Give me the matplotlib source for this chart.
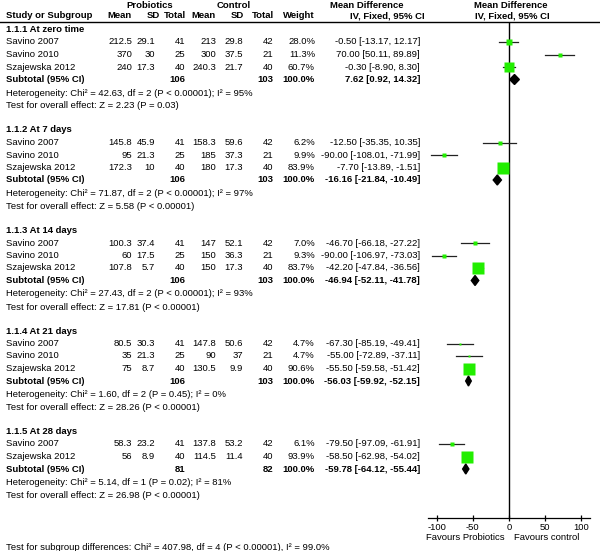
import numpy as np
import matplotlib
matplotlib.use("Agg")
import matplotlib.pyplot as plt
from matplotlib.patches import Polygon

plt.rcParams['font.family'] = ['Liberation Sans', 'DejaVu Sans']

groups = ["1.1.1 At zero time", "1.1.2 At 7 days", "1.1.3 At 14 days",
          "1.1.4 At 21 days", "1.1.5 At 28 days"]
studies = [["Savino 2007", "Savino 2010", "Szajewska 2012"],
           ["Savino 2007", "Savino 2010", "Szajewska 2012"],
           ["Savino 2007", "Savino 2010", "Szajewska 2012"],
           ["Savino 2007", "Savino 2010", "Szajewska 2012"],
           ["Savino 2007", "Szajewska 2012"]]
pro_mean = [[212.5, 370, 240], [145.8, 95, 172.3], [100.3, 60, 107.8], [80.5, 35, 75], [58.3, 56]]
pro_sd = [[29.1, 30, 17.3], [45.9, 21.3, 10], [37.4, 17.5, 5.7], [30.3, 21.3, 8.7], [23.2, 8.9]]
pro_n = [[41, 25, 40], [41, 25, 40], [41, 25, 40], [41, 25, 40], [41, 40]]
ctl_mean = [[213, 300, 240.3], [158.3, 185, 180], [147, 150, 150], [147.8, 90, 130.5], [137.8, 114.5]]
ctl_sd = [[29.8, 37.5, 21.7], [59.6, 37.3, 17.3], [52.1, 36.3, 17.3], [50.6, 37, 9.9], [53.2, 11.4]]
ctl_n = [[42, 21, 40], [42, 21, 40], [42, 21, 40], [42, 21, 40], [42, 40]]
weight = [[28.0, 11.3, 60.7], [6.2, 9.9, 83.9], [7.0, 9.3, 83.7], [4.7, 4.7, 90.6], [6.1, 93.9]]
md = [[-0.50, 70.00, -0.30], [-12.50, -90.00, -7.70], [-46.70, -90.00, -42.20],
      [-67.30, -55.00, -55.50], [-79.50, -58.50]]
ci_lo = [[-13.17, 50.11, -8.90], [-35.35, -108.01, -13.89], [-66.18, -106.97, -47.84],
         [-85.19, -72.89, -59.58], [-97.09, -62.98]]
ci_hi = [[12.17, 89.89, 8.30], [10.35, -71.99, -1.51], [-27.22, -73.03, -36.56],
         [-49.41, -37.11, -51.42], [-61.91, -54.02]]

sub_pro_n = [106, 106, 106, 106, 81]
sub_ctl_n = [103, 103, 103, 103, 82]
sub_md = [7.62, -16.16, -46.94, -56.03, -59.78]
sub_lo = [0.92, -21.84, -52.11, -59.92, -64.12]
sub_hi = [14.32, -10.49, -41.78, -52.15, -55.44]

het_chi = ["42.63", "71.87", "27.43", "1.60", "5.14"]
het_df = [2, 2, 2, 2, 1]
het_p = ["< 0.00001", "< 0.00001", "< 0.00001", "= 0.45", "= 0.02"]
het_i2 = [95, 97, 93, 0, 81]
z_val = ["2.23", "5.58", "17.81", "28.26", "26.98"]
z_p = ["= 0.03", "< 0.00001", "< 0.00001", "< 0.00001", "< 0.00001"]

x_ticks = [-100, -50, 0, 50, 100]
footer = "Test for subgroup differences: Chi\u00b2 = 407.98, df = 4 (P < 0.00001), I\u00b2 = 99.0%"

W, H = 600, 551
fs = 6.8
fig = plt.figure(figsize=(W / 100, H / 100), dpi=100)

tx = fig.add_axes([0, 0, 1, 1])
tx.set_xlim(0, W)
tx.set_ylim(H, 0)
tx.axis('off')

def put(x, y, s, ha='left', bold=False):
    tx.text(x, y, s, ha=ha, va='center', fontsize=fs,
            fontweight='bold' if bold else 'normal')

# column right edges (pixels)
c_pm, c_psd, c_pn = 132, 155, 185
c_cm, c_csd, c_cn = 216, 243, 273
c_w, c_ci = 315, 420

put(150, 5, "Probiotics", 'center', True)
put(234, 5, "Control", 'center', True)
put(367, 5, "Mean Difference", 'center', True)
put(511, 5, "Mean Difference", 'center', True)
put(6, 16, "Study or Subgroup", bold=True)
for x, s in [(132, "Mean"), (160, "SD"), (186, "Total"), (216, "Mean"),
             (244, "SD"), (274, "Total"), (315, "Weight")]:
    put(x, 16, s, 'right', True)
put(387, 16, "IV, Fixed, 95% CI", 'center', True)
put(512, 16, "IV, Fixed, 95% CI", 'center', True)
tx.plot([0, W], [21.5, 21.5], color='black', lw=1)

# forest panel, y in pixel rows
ax = fig.add_axes([428 / W, (H - 518) / H, 162 / W, (518 - 21.5) / H])
ax.set_facecolor('none')
ax.set_xlim(-112, 112)
ax.set_ylim(518, 21.5)
for sp in ['top', 'right', 'left']:
    ax.spines[sp].set_visible(False)
ax.spines['bottom'].set_linewidth(0.9)
ax.set_yticks([])
ax.set_xticks(x_ticks)
ax.set_xticklabels([str(t) for t in x_ticks])
ax.tick_params(axis='x', direction='inout', length=5, width=0.9, labelsize=fs, pad=1)
ax.axvline(0, color='black', lw=1)

y = 29.5
for g in range(len(groups)):
    put(6, y, groups[g], bold=True)
    for i in range(len(studies[g])):
        yy = y + 12.5 * (i + 1)
        put(6, yy, studies[g][i])
        put(c_pm, yy, f"{pro_mean[g][i]:g}", 'right')
        put(c_psd, yy, f"{pro_sd[g][i]:g}", 'right')
        put(c_pn, yy, f"{pro_n[g][i]}", 'right')
        put(c_cm, yy, f"{ctl_mean[g][i]:g}", 'right')
        put(c_csd, yy, f"{ctl_sd[g][i]:g}", 'right')
        put(c_cn, yy, f"{ctl_n[g][i]}", 'right')
        put(c_w, yy, f"{weight[g][i]:.1f}%", 'right')
        put(c_ci, yy, f"{md[g][i]:.2f} [{ci_lo[g][i]:.2f}, {ci_hi[g][i]:.2f}]", 'right')
        ax.plot([ci_lo[g][i], ci_hi[g][i]], [yy, yy], color='#222222', lw=0.9, zorder=2)
        side = 13 * np.sqrt(weight[g][i] / 100)
        ax.plot(md[g][i], yy, 's', ms=max(side, 2) * 0.72, color='#22ee00',
                mec='none', zorder=3)
    ys = y + 12.5 * (len(studies[g]) + 1)
    put(6, ys, "Subtotal (95% CI)", bold=True)
    put(c_pn, ys, f"{sub_pro_n[g]}", 'right', True)
    put(c_cn, ys, f"{sub_ctl_n[g]}", 'right', True)
    put(c_w, ys, "100.0%", 'right', True)
    put(c_ci, ys, f"{sub_md[g]:.2f} [{sub_lo[g]:.2f}, {sub_hi[g]:.2f}]", 'right', True)
    ax.add_patch(Polygon([(sub_lo[g], ys), (sub_md[g], ys - 5), (sub_hi[g], ys),
                          (sub_md[g], ys + 5)], closed=True, color='black', zorder=3))
    put(6, ys + 13.5, f"Heterogeneity: Chi\u00b2 = {het_chi[g]}, df = {het_df[g]} "
                      f"(P {het_p[g]}); I\u00b2 = {het_i2[g]}%")
    put(6, ys + 26.5, f"Test for overall effect: Z = {z_val[g]} (P {z_p[g]})")
    y = ys + 26.5 + 24

put(6, 547, footer)
put(465, 538, "Favours Probiotics", 'center')
put(547, 538, "Favours control", 'center')

fig.savefig("out.png", dpi=100)
